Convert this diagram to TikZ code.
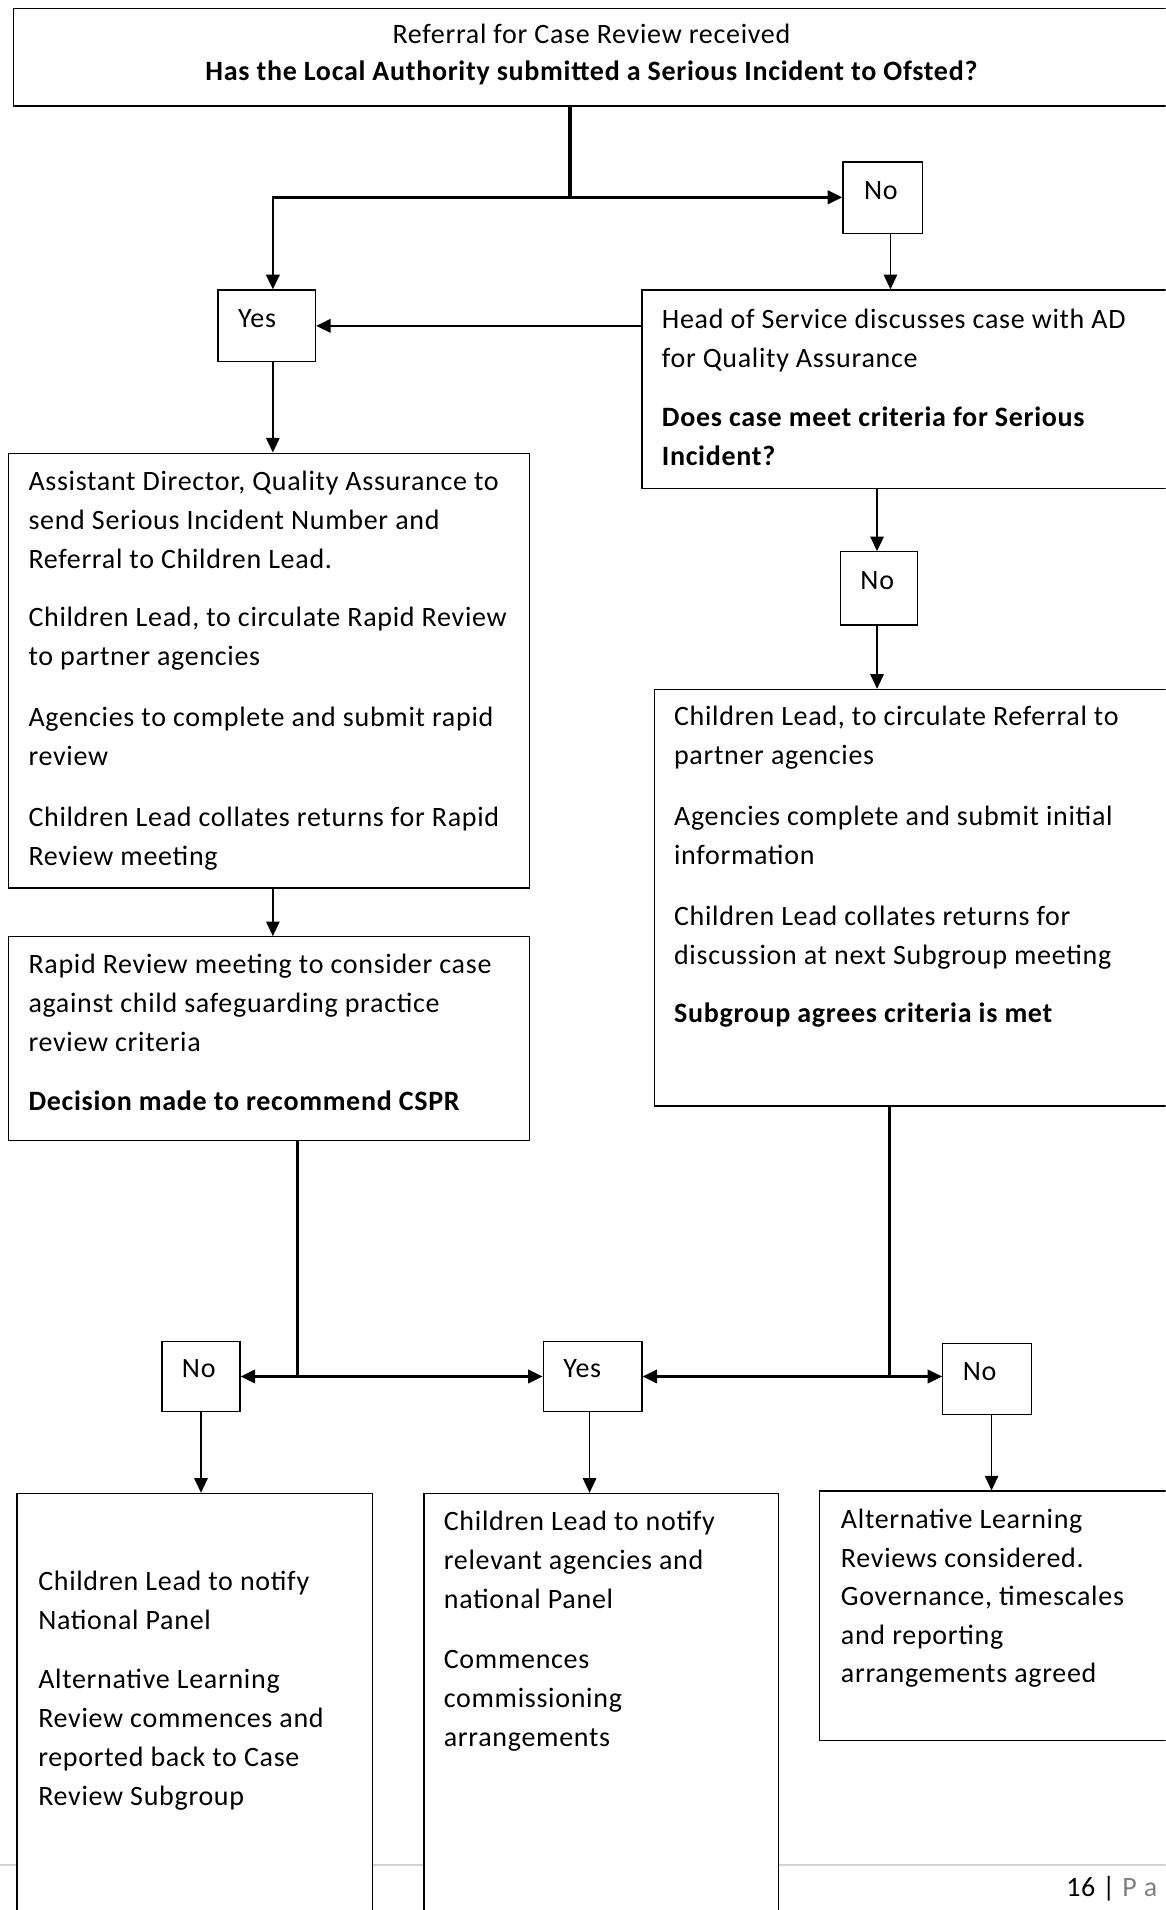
\documentclass[tikz,border=0pt]{standalone}
\usepackage{fontspec}
\setmainfont{Carlito}[LetterSpace=2.5]
\usetikzlibrary{arrows.meta,fit}
\newcommand\bodyfont{\fontsize{11.5pt}{16pt}\selectfont}
\definecolor{pagegray}{gray}{0.5}
\definecolor{rulegray}{gray}{0.82}
\tikzset{
  box/.style={draw=black, line width=0.5pt, fill=white, inner sep=0pt},
  txt/.style={anchor=north west, inner sep=0pt, align=left, font=\bodyfont},
  lbl/.style={anchor=base west, inner sep=0pt, font=\bodyfont},
  thk/.style={line width=1.4pt},
  med/.style={line width=1.1pt},
  thn/.style={line width=0.65pt},
  arr/.style={-{Triangle[length=6pt,width=5.5pt]}},
}
\begin{document}
\begin{tikzpicture}[x=0.5pt,y=-0.5pt]
\useasboundingbox (0,0) rectangle (957,1568);
\clip (0,0) rectangle (957,1568);
\fill[white] (0,0) rectangle (957,1568);

% footer rule (behind the boxes)
\draw[rulegray, line width=1pt] (0,1531) -- (965,1531);

% boxes
\node[box, fit={(11,7)(965,87)}] (top) {};
\node[box, fit={(692,133)(757,192)}] (no1) {};
\node[box, fit={(179,238)(259,297)}] (yes1) {};
\node[box, fit={(527,238)(965,401)}] (head) {};
\node[box, fit={(7,372)(435,729)}] (ad) {};
\node[box, fit={(7,769)(435,936)}] (rr) {};
\node[box, fit={(690,453)(753,513)}] (no2) {};
\node[box, fit={(537,566)(965,908)}] (cl) {};
\node[box, fit={(133,1101)(197,1159)}] (no3) {};
\node[box, fit={(446,1101)(527,1159)}] (yes2) {};
\node[box, fit={(774,1103)(847,1161)}] (no4) {};
\node[box, fit={(14,1226)(306,1590)}] (b1) {};
\node[box, fit={(348,1226)(639,1590)}] (b2) {};
\node[box, fit={(673,1224)(965,1429)}] (b3) {};

% texts
\node[anchor=base, inner sep=0pt, font=\bodyfont] (t1) at (485.5,36) {Referral for Case Review received};
\node[anchor=base, inner sep=0pt, font=\bodyfont\bfseries] (t2) at (485.5,66) {Has the Local Authority submitted a Serious Incident to Ofsted?};
\node[lbl] (tno1) at (709,164) {No};
\node[lbl] (tyes1) at (195,269) {Yes};
\node[txt] (thead) at (543,246.6) {\strut Head of Service discusses case with AD\\
for Quality Assurance\\[8.5pt]
\textbf{Does case meet criteria for Serious}\\
\textbf{Incident?}};
\node[txt] (tad) at (23,379.6) {\strut Assistant Director, Quality Assurance to\\
send Serious Incident Number and\\
Referral to Children Lead.\\[8pt]
Children Lead, to circulate Rapid Review\\
to partner agencies\\[9pt]
Agencies to complete and submit rapid\\
review\\[9pt]
Children Lead collates returns for Rapid\\
Review meeting};
\node[txt] (trr) at (23,776.6) {\strut Rapid Review meeting to consider case\\
against child safeguarding practice\\
review criteria\\[8pt]
\textbf{Decision made to recommend CSPR}};
\node[lbl] (tno2) at (706,484) {No};
\node[txt] (tcl) at (553,572.6) {\strut Children Lead, to circulate Referral to\\
partner agencies\\[9pt]
Agencies complete and submit initial\\
information\\[9pt]
Children Lead collates returns for\\
discussion at next Subgroup meeting\\[8pt]
\textbf{Subgroup agrees criteria is met}};
\node[lbl] (tno3) at (149,1131) {No};
\node[lbl] (tyes2) at (462,1131) {Yes};
\node[lbl] (tno4) at (790,1133) {No};
\node[txt] (tb1) at (31,1282.6) {\strut Children Lead to notify\\
National Panel\\[8.5pt]
Alternative Learning\\
Review commences and\\
reported back to Case\\
Review Subgroup};
\node[txt] (tb2) at (364,1233.6) {\strut Children Lead to notify\\
relevant agencies and\\
national Panel\\[8.5pt]
Commences\\
commissioning\\
arrangements};
\node[txt, font=\fontsize{11.5pt}{15.8pt}\selectfont] (tb3) at (690,1232.6) {\strut Alternative Learning\\
Reviews considered.\\
Governance, timescales\\
and reporting\\
arrangements agreed};

% footer text
\node[lbl] (pg) at (875,1557) {16 | \textcolor{pagegray}{P a}};

% connectors
\coordinate (j1) at (468,162);
\coordinate (j2) at (244,1130);
\coordinate (j3) at (730,1130);

\draw[thk] (top.south -| j1) -- (j1);
\draw[med, arr] (j1) -- (no1.west |- j1);
\draw[med, arr] (j1) -| (yes1.north -| 224,0);
\draw[thn, arr] (no1.south -| 731,0) -- (head.north -| 731,0);
\draw[med, arr] (head.west |- yes1.east) -- (yes1.east);
\draw[thn, arr] (yes1.south -| 224,0) -- (ad.north -| 224,0);
\draw[thn, arr] (ad.south -| 224,0) -- (rr.north -| 224,0);
\draw[thn, arr] (head.south -| 720,0) -- (no2.north -| 720,0);
\draw[thn, arr] (no2.south -| 720,0) -- (cl.north -| 720,0);

\draw[thk] (rr.south -| j2) -- (j2);
\draw[med, arr] (j2) -- (no3.east |- j2);
\draw[med, arr] (j2) -- (yes2.west |- j2);
\draw[thk] (cl.south -| j3) -- (j3);
\draw[med, arr] (j3) -- (yes2.east |- j3);
\draw[med, arr] (j3) -- (no4.west |- j3);

\draw[thn, arr] (no3.south -| 165,0) -- (b1.north -| 165,0);
\draw[thn, arr] (yes2.south -| 484,0) -- (b2.north -| 484,0);
\draw[thn, arr] (no4.south -| 814,0) -- (b3.north -| 814,0);
\end{tikzpicture}
\end{document}
